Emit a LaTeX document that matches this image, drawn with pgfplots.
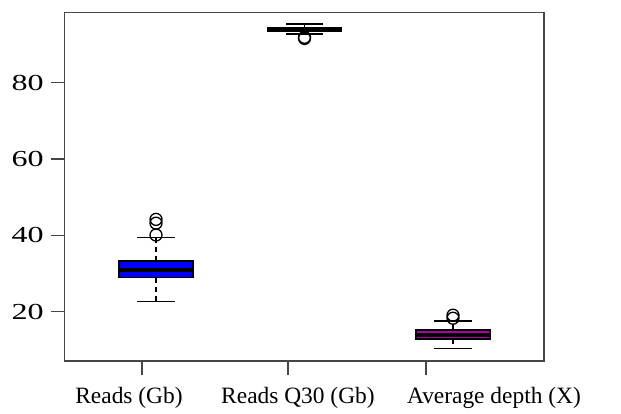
\documentclass[border=0pt]{standalone}
\usepackage{graphicx}
\usepackage{pgfplots}
\pgfplotsset{compat=1.18}
\usepackage{fontspec}
\setmainfont{Liberation Serif}
\definecolor{boxmag}{RGB}{170,0,170}
\definecolor{axgray}{RGB}{70,70,70}
\begin{document}
\begin{tikzpicture}
\begin{axis}[
  name=ax,
  scale only axis,
  width=479.3bp, height=348.7bp,
  xmin=0.385, xmax=3.613,
  ymin=7.1, ymax=98.45,
  axis line style={axgray, line width=1.3bp},
  xtick={0.906,1.889,2.818},
  xticklabels={},
  ytick={20,40,60,80},
  yticklabel={\scalebox{1.4}[1]{\pgfmathprintnumber{\tick}}},
  yticklabel style={xshift=-4bp},
  tick align=outside,
  tick pos=left,
  major tick length=13.5bp,
  tick style={axgray, line width=1.3bp},
  tick label style={font=\fontsize{23}{27}\selectfont},
  clip=false,
  /pgf/number format/assume math mode=true,
]
% ---- Reads (Gb)
\addplot[draw=black, fill=blue, line width=1.3bp] coordinates {(0.75,28.9) (1.25,28.9) (1.25,33.3) (0.75,33.3)} -- cycle;
\addplot[black, line width=4bp] coordinates {(0.75,30.9) (1.25,30.9)};
\addplot[black, line width=1.3bp, dash pattern=on 5bp off 4bp] coordinates {(1,33.3) (1,39.5)};
\addplot[black, line width=1.3bp, dash pattern=on 5bp off 4bp] coordinates {(1,28.9) (1,22.6)};
\addplot[black, line width=1.3bp] coordinates {(0.875,39.5) (1.125,39.5)};
\addplot[black, line width=1.3bp] coordinates {(0.875,22.6) (1.125,22.6)};
\addplot[only marks, mark=o, mark size=6bp, mark options={black, line width=1.3bp}] coordinates {(1,44.2) (1,43.2) (1,40.1)};
% ---- Reads Q30 (Gb)
\addplot[draw=black, fill=black, line width=1.3bp] coordinates {(1.75,93.4) (2.25,93.4) (2.25,94.5) (1.75,94.5)} -- cycle;
\addplot[black, line width=4bp] coordinates {(1.75,93.9) (2.25,93.9)};
\addplot[black, line width=1.3bp, dash pattern=on 5bp off 4bp] coordinates {(2,94.5) (2,95.4)};
\addplot[black, line width=1.3bp, dash pattern=on 5bp off 4bp] coordinates {(2,93.4) (2,92.8)};
\addplot[black, line width=1.3bp] coordinates {(1.875,95.4) (2.125,95.4)};
\addplot[black, line width=1.3bp] coordinates {(1.875,92.8) (2.125,92.8)};
\addplot[only marks, mark=o, mark size=6bp, mark options={black, line width=1.3bp}] coordinates {(2,91.6) (2,91.9)};
% ---- Average depth (X)
\addplot[draw=black, fill=boxmag, line width=1.3bp] coordinates {(2.75,12.85) (3.25,12.85) (3.25,15.2) (2.75,15.2)} -- cycle;
\addplot[black, line width=4bp] coordinates {(2.75,13.9) (3.25,13.9)};
\addplot[black, line width=1.3bp, dash pattern=on 5bp off 4bp] coordinates {(3,15.2) (3,17.6)};
\addplot[black, line width=1.3bp, dash pattern=on 5bp off 4bp] coordinates {(3,12.85) (3,10.4)};
\addplot[black, line width=1.3bp] coordinates {(2.875,17.6) (3.125,17.6)};
\addplot[black, line width=1.3bp] coordinates {(2.875,10.4) (3.125,10.4)};
\addplot[only marks, mark=o, mark size=6bp, mark options={black, line width=1.3bp}] coordinates {(3,19.1) (3,18.3)};
% ---- category labels
\node[anchor=base, font=\fontsize{23.5}{27}\selectfont] at ([yshift=-42bp]axis cs:0.818,7.1) {Reads (Gb)};
\node[anchor=base, font=\fontsize{23.5}{27}\selectfont] at ([yshift=-42bp]axis cs:1.956,7.1) {Reads Q30 (Gb)};
\node[anchor=base, font=\fontsize{23.5}{27}\selectfont] at ([yshift=-42bp]axis cs:3.276,7.1) {Average depth (X)};
\end{axis}
\pgfresetboundingbox
\path[use as bounding box] ([shift={(-64.7bp,-53bp)}]ax.south west) rectangle ([shift={(77bp,12.3bp)}]ax.north east);
\end{tikzpicture}
\end{document}
